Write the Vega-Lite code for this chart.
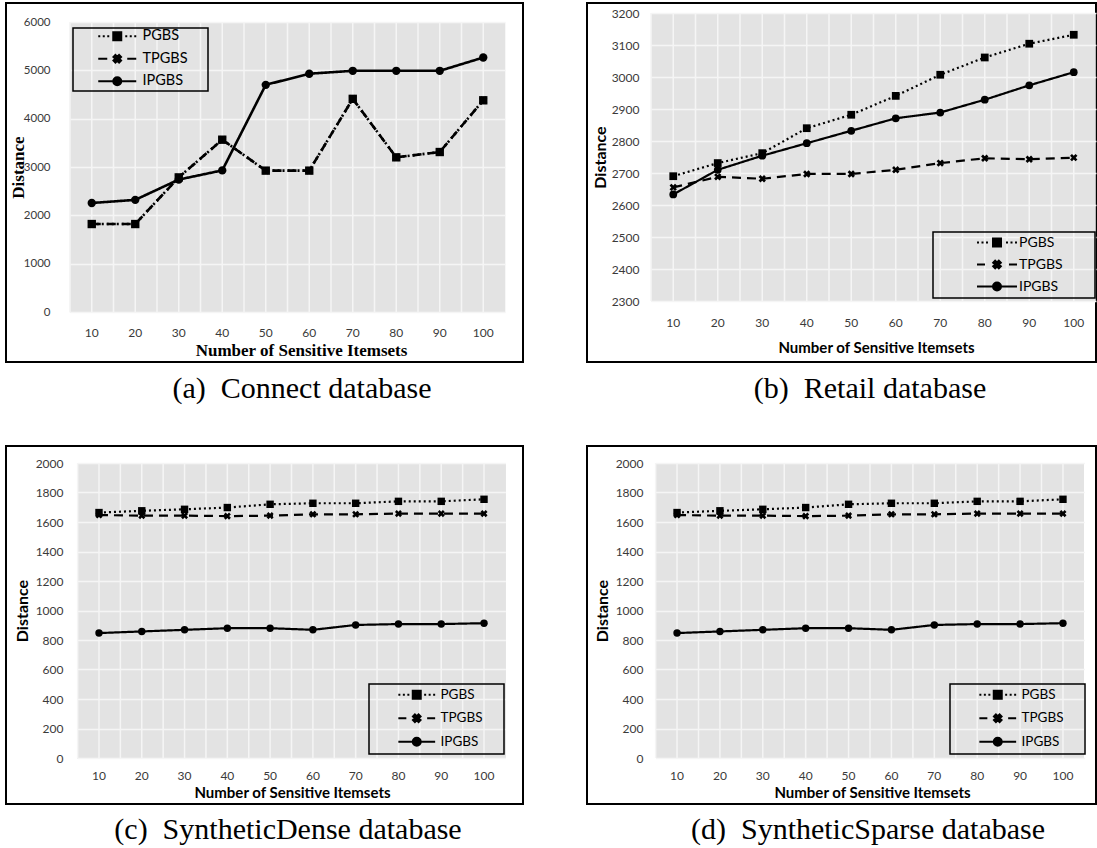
{
  "$schema": "https://vega.github.io/schema/vega-lite/v6.json",
  "padding": {"left": 5, "top": 2, "right": 0, "bottom": 0},
  "background": "white",
  "columns": 2,
  "spacing": {"row": 84, "column": 64},
  "bounds": "flush",
  "resolve": {"legend": {"strokeDash": "independent", "shape": "independent"}, "scale": {"x": "independent", "y": "independent", "strokeDash": "independent", "shape": "independent"}},
  "config": {
    "view": {"stroke": "black", "strokeWidth": 2},
    "axis": {"domain": false, "ticks": false, "tickSize": 0, "labelFont": "Lato", "labelColor": "#3a3a3a", "titleColor": "black", "labelAngle": 0, "labelOverlap": false},
    "title": {"font": "Liberation Serif", "fontSize": 30, "fontWeight": "normal", "color": "black", "orient": "bottom", "anchor": "middle", "frame": "group", "offset": 12, "baseline": "top"},
    "legend": {"title": null, "orient": "none", "strokeColor": "black", "strokeWidth": 1.5, "labelFont": "Lato", "labelColor": "black", "symbolSize": 64, "symbolStrokeWidth": 2, "symbolOpacity": 1}
  },
  "datasets": {
    "connect": [
      {"n": 10, "series": "PGBS", "value": 1820}, {"n": 20, "series": "PGBS", "value": 1820}, {"n": 30, "series": "PGBS", "value": 2785}, {"n": 40, "series": "PGBS", "value": 3565}, {"n": 50, "series": "PGBS", "value": 2925}, {"n": 60, "series": "PGBS", "value": 2925}, {"n": 70, "series": "PGBS", "value": 4410}, {"n": 80, "series": "PGBS", "value": 3200}, {"n": 90, "series": "PGBS", "value": 3310}, {"n": 100, "series": "PGBS", "value": 4380},
      {"n": 10, "series": "TPGBS", "value": 1820}, {"n": 20, "series": "TPGBS", "value": 1820}, {"n": 30, "series": "TPGBS", "value": 2785}, {"n": 40, "series": "TPGBS", "value": 3565}, {"n": 50, "series": "TPGBS", "value": 2925}, {"n": 60, "series": "TPGBS", "value": 2925}, {"n": 70, "series": "TPGBS", "value": 4410}, {"n": 80, "series": "TPGBS", "value": 3200}, {"n": 90, "series": "TPGBS", "value": 3310}, {"n": 100, "series": "TPGBS", "value": 4380},
      {"n": 10, "series": "IPGBS", "value": 2255}, {"n": 20, "series": "IPGBS", "value": 2320}, {"n": 30, "series": "IPGBS", "value": 2740}, {"n": 40, "series": "IPGBS", "value": 2930}, {"n": 50, "series": "IPGBS", "value": 4700}, {"n": 60, "series": "IPGBS", "value": 4930}, {"n": 70, "series": "IPGBS", "value": 4990}, {"n": 80, "series": "IPGBS", "value": 4990}, {"n": 90, "series": "IPGBS", "value": 4990}, {"n": 100, "series": "IPGBS", "value": 5265}
    ],
    "retail": [
      {"n": 10, "series": "PGBS", "value": 2690}, {"n": 20, "series": "PGBS", "value": 2731}, {"n": 30, "series": "PGBS", "value": 2762}, {"n": 40, "series": "PGBS", "value": 2840}, {"n": 50, "series": "PGBS", "value": 2882}, {"n": 60, "series": "PGBS", "value": 2941}, {"n": 70, "series": "PGBS", "value": 3007}, {"n": 80, "series": "PGBS", "value": 3061}, {"n": 90, "series": "PGBS", "value": 3104}, {"n": 100, "series": "PGBS", "value": 3132},
      {"n": 10, "series": "TPGBS", "value": 2655}, {"n": 20, "series": "TPGBS", "value": 2688}, {"n": 30, "series": "TPGBS", "value": 2682}, {"n": 40, "series": "TPGBS", "value": 2697}, {"n": 50, "series": "TPGBS", "value": 2697}, {"n": 60, "series": "TPGBS", "value": 2710}, {"n": 70, "series": "TPGBS", "value": 2731}, {"n": 80, "series": "TPGBS", "value": 2746}, {"n": 90, "series": "TPGBS", "value": 2743}, {"n": 100, "series": "TPGBS", "value": 2748},
      {"n": 10, "series": "IPGBS", "value": 2633}, {"n": 20, "series": "IPGBS", "value": 2710}, {"n": 30, "series": "IPGBS", "value": 2754}, {"n": 40, "series": "IPGBS", "value": 2793}, {"n": 50, "series": "IPGBS", "value": 2832}, {"n": 60, "series": "IPGBS", "value": 2871}, {"n": 70, "series": "IPGBS", "value": 2889}, {"n": 80, "series": "IPGBS", "value": 2929}, {"n": 90, "series": "IPGBS", "value": 2974}, {"n": 100, "series": "IPGBS", "value": 3015}
    ],
    "dense": [
      {"n": 10, "series": "PGBS", "value": 1664}, {"n": 20, "series": "PGBS", "value": 1676}, {"n": 30, "series": "PGBS", "value": 1686}, {"n": 40, "series": "PGBS", "value": 1698}, {"n": 50, "series": "PGBS", "value": 1720}, {"n": 60, "series": "PGBS", "value": 1727}, {"n": 70, "series": "PGBS", "value": 1727}, {"n": 80, "series": "PGBS", "value": 1740}, {"n": 90, "series": "PGBS", "value": 1740}, {"n": 100, "series": "PGBS", "value": 1754},
      {"n": 10, "series": "TPGBS", "value": 1647}, {"n": 20, "series": "TPGBS", "value": 1643}, {"n": 30, "series": "TPGBS", "value": 1643}, {"n": 40, "series": "TPGBS", "value": 1640}, {"n": 50, "series": "TPGBS", "value": 1643}, {"n": 60, "series": "TPGBS", "value": 1652}, {"n": 70, "series": "TPGBS", "value": 1652}, {"n": 80, "series": "TPGBS", "value": 1657}, {"n": 90, "series": "TPGBS", "value": 1657}, {"n": 100, "series": "TPGBS", "value": 1657},
      {"n": 10, "series": "IPGBS", "value": 847}, {"n": 20, "series": "IPGBS", "value": 858}, {"n": 30, "series": "IPGBS", "value": 869}, {"n": 40, "series": "IPGBS", "value": 880}, {"n": 50, "series": "IPGBS", "value": 880}, {"n": 60, "series": "IPGBS", "value": 869}, {"n": 70, "series": "IPGBS", "value": 902}, {"n": 80, "series": "IPGBS", "value": 908}, {"n": 90, "series": "IPGBS", "value": 908}, {"n": 100, "series": "IPGBS", "value": 914}
    ],
    "sparse": [
      {"n": 10, "series": "PGBS", "value": 1664}, {"n": 20, "series": "PGBS", "value": 1676}, {"n": 30, "series": "PGBS", "value": 1686}, {"n": 40, "series": "PGBS", "value": 1698}, {"n": 50, "series": "PGBS", "value": 1720}, {"n": 60, "series": "PGBS", "value": 1727}, {"n": 70, "series": "PGBS", "value": 1727}, {"n": 80, "series": "PGBS", "value": 1740}, {"n": 90, "series": "PGBS", "value": 1740}, {"n": 100, "series": "PGBS", "value": 1754},
      {"n": 10, "series": "TPGBS", "value": 1647}, {"n": 20, "series": "TPGBS", "value": 1643}, {"n": 30, "series": "TPGBS", "value": 1643}, {"n": 40, "series": "TPGBS", "value": 1640}, {"n": 50, "series": "TPGBS", "value": 1643}, {"n": 60, "series": "TPGBS", "value": 1652}, {"n": 70, "series": "TPGBS", "value": 1652}, {"n": 80, "series": "TPGBS", "value": 1657}, {"n": 90, "series": "TPGBS", "value": 1657}, {"n": 100, "series": "TPGBS", "value": 1657},
      {"n": 10, "series": "IPGBS", "value": 847}, {"n": 20, "series": "IPGBS", "value": 858}, {"n": 30, "series": "IPGBS", "value": 869}, {"n": 40, "series": "IPGBS", "value": 880}, {"n": 50, "series": "IPGBS", "value": 880}, {"n": 60, "series": "IPGBS", "value": 869}, {"n": 70, "series": "IPGBS", "value": 902}, {"n": 80, "series": "IPGBS", "value": 908}, {"n": 90, "series": "IPGBS", "value": 908}, {"n": 100, "series": "IPGBS", "value": 914}
    ]
  },
  "concat": [
    {
      "width": 517, "height": 359,
      "data": {"name": "connect"},
      "title": {"text": "(a)\u00a0 Connect database", "dx": 37.5},
      "resolve": {"scale": {"shape": "independent"}, "legend": {"shape": "independent"}},
      "encoding": {
        "x": {"field": "n", "type": "ordinal", "scale": {"type": "band", "range": [64, 499], "paddingInner": 0, "paddingOuter": 0},
          "axis": {"orient": "top", "offset": -309, "grid": true, "gridColor": "#e3e3e3", "gridWidth": 43.6, "gridOpacity": 1, "bandPosition": 0.5, "labelPadding": -20, "labelBaseline": "middle", "labelFontSize": 12, "title": "Number of Sensitive Itemsets", "titleFont": "Liberation Serif", "titleFontSize": 17, "titleFontWeight": "bold", "titleX": 295, "titleY": 38, "titleBaseline": "middle", "titleAlign": "center"}},
        "y": {"field": "value", "type": "quantitative", "scale": {"domain": [0, 6000], "range": [309, 19], "nice": false, "zero": false},
          "axis": {"orient": "left", "offset": -64, "values": [0, 1000, 2000, 3000, 4000, 5000, 6000], "format": "d", "grid": true, "gridColor": "#f5f5f5", "gridWidth": 1.5, "labelPadding": 20, "labelFontSize": 11.5, "title": "Distance", "titleFont": "Liberation Serif", "titleFontSize": 17, "titleFontWeight": "bold", "titleX": -52, "titleY": 164, "titleBaseline": "middle", "titleAlign": "center", "titleAngle": -90}}
      },
      "layer": [
        {
          "transform": [{"filter": "datum.series === 'IPGBS'"}],
          "mark": {"type": "rule", "color": "#f5f5f5", "strokeWidth": 1.5},
          "encoding": {
            "x": {"field": "n", "type": "ordinal", "bandPosition": 0, "scale": {"type": "band", "range": [64, 499], "paddingInner": 0, "paddingOuter": 0}},
            "y": {"datum": 0, "type": "quantitative", "scale": {"domain": [0, 6000], "range": [309, 19], "nice": false, "zero": false}},
            "y2": {"datum": 6000}
          }
        },
        {
          "transform": [{"filter": "datum.series === 'IPGBS'"}],
          "mark": {"type": "rule", "color": "#f5f5f5", "strokeWidth": 1.5},
          "encoding": {
            "x": {"field": "n", "type": "ordinal", "bandPosition": 0.5, "scale": {"type": "band", "range": [64, 499], "paddingInner": 0, "paddingOuter": 0}},
            "y": {"datum": 0, "type": "quantitative", "scale": {"domain": [0, 6000], "range": [309, 19], "nice": false, "zero": false}},
            "y2": {"datum": 6000}
          }
        },
        {
          "mark": {"type": "line", "color": "black", "strokeWidth": 2.6},
          "encoding": {
            "strokeDash": {"field": "series", "type": "nominal", "scale": {"domain": ["PGBS", "TPGBS", "IPGBS"], "range": [[2, 3], [9, 6], [1, 0]]}, "legend": null}
          }
        },
        {
          "mark": {"type": "point", "filled": true, "color": "black", "size": 70, "opacity": 1},
          "encoding": {
            "shape": {"field": "series", "type": "nominal", "scale": {"domain": ["PGBS", "TPGBS", "IPGBS"], "range": ["square", "M-0.46,-0.955L0,-0.495L0.46,-0.955L0.955,-0.46L0.495,0L0.955,0.46L0.46,0.955L0,0.495L-0.46,0.955L-0.955,0.46L-0.495,0L-0.955,-0.46Z", "circle"]}, "legend": null}
          }
        },
        {
          "transform": [{"filter": "false"}],
          "mark": {"type": "point", "filled": true, "color": "black", "stroke": "black", "strokeWidth": 2, "opacity": 1},
          "encoding": {
            "shape": {"field": "series", "type": "nominal",
              "scale": {"domain": ["PGBS\u00a0\u00a0\u00a0\u00a0\u00a0\u200b", "TPGBS\u00a0\u00a0\u00a0\u00a0\u00a0\u200b", "IPGBS\u00a0\u00a0\u00a0\u00a0\u00a0\u200b"], "range": ["M-4.75,0H-4.25M-3.625,0H-3.125M-2.5,0H-2M2,0H2.5M3.125,0H3.625M4.25,0H4.75M-1,-1H1V1H-1Z", "M-4.75,0H-2.5M2.5,0H4.75M-0.46,-0.955L0,-0.495L0.46,-0.955L0.955,-0.46L0.495,0L0.955,0.46L0.46,0.955L0,0.495L-0.46,0.955L-0.955,0.46L-0.495,0L-0.955,-0.46Z", "M-4.75,0H4.75M-1,0A1,1 0 1,0 1,0A1,1 0 1,0 -1,0Z"]},
              "legend": {"legendX": 67, "legendY": 25, "padding": 1, "rowPadding": 5.5, "labelFontSize": 14.5, "symbolOffset": 36, "labelOffset": 18}}
          }
        }
      ]
    },
    {
      "width": 509, "height": 359,
      "data": {"name": "retail"},
      "title": {"text": "(b)\u00a0 Retail database", "dx": 28.5},
      "resolve": {"scale": {"shape": "independent"}, "legend": {"shape": "independent"}},
      "encoding": {
        "x": {"field": "n", "type": "ordinal", "scale": {"type": "band", "range": [64, 509], "paddingInner": 0, "paddingOuter": 0},
          "axis": {"orient": "top", "offset": -298, "grid": true, "gridColor": "#e3e3e3", "gridWidth": 44.6, "gridOpacity": 1, "bandPosition": 0.5, "labelPadding": -21, "labelBaseline": "middle", "labelFontSize": 12, "title": "Number of Sensitive Itemsets", "titleFont": "Lato", "titleFontSize": 15, "titleFontWeight": "bold", "titleX": 289, "titleY": 46, "titleBaseline": "middle", "titleAlign": "center"}},
        "y": {"field": "value", "type": "quantitative", "scale": {"domain": [2300, 3200], "range": [298, 10], "nice": false, "zero": false},
          "axis": {"orient": "left", "offset": -64, "values": [2300, 2400, 2500, 2600, 2700, 2800, 2900, 3000, 3100, 3200], "format": "d", "grid": true, "gridColor": "#f5f5f5", "gridWidth": 1.5, "labelPadding": 12, "labelFontSize": 12, "title": "Distance", "titleFont": "Lato", "titleFontSize": 16, "titleFontWeight": "bold", "titleX": -51, "titleY": 154, "titleBaseline": "middle", "titleAlign": "center", "titleAngle": -90}}
      },
      "layer": [
        {
          "transform": [{"filter": "datum.series === 'IPGBS'"}],
          "mark": {"type": "rule", "color": "#f5f5f5", "strokeWidth": 1.5},
          "encoding": {
            "x": {"field": "n", "type": "ordinal", "bandPosition": 0, "scale": {"type": "band", "range": [64, 509], "paddingInner": 0, "paddingOuter": 0}},
            "y": {"datum": 2300, "type": "quantitative", "scale": {"domain": [2300, 3200], "range": [298, 10], "nice": false, "zero": false}},
            "y2": {"datum": 3200}
          }
        },
        {
          "transform": [{"filter": "datum.series === 'IPGBS'"}],
          "mark": {"type": "rule", "color": "#f5f5f5", "strokeWidth": 1.5},
          "encoding": {
            "x": {"field": "n", "type": "ordinal", "bandPosition": 0.5, "scale": {"type": "band", "range": [64, 509], "paddingInner": 0, "paddingOuter": 0}},
            "y": {"datum": 2300, "type": "quantitative", "scale": {"domain": [2300, 3200], "range": [298, 10], "nice": false, "zero": false}},
            "y2": {"datum": 3200}
          }
        },
        {
          "mark": {"type": "line", "color": "black", "strokeWidth": 2.2},
          "encoding": {
            "strokeDash": {"field": "series", "type": "nominal", "scale": {"domain": ["PGBS", "TPGBS", "IPGBS"], "range": [[2, 3], [9, 6], [1, 0]]}, "legend": null}
          }
        },
        {
          "mark": {"type": "point", "filled": true, "color": "black", "size": 60, "opacity": 1},
          "encoding": {
            "shape": {"field": "series", "type": "nominal", "scale": {"domain": ["PGBS", "TPGBS", "IPGBS"], "range": ["square", "M-0.46,-0.955L0,-0.495L0.46,-0.955L0.955,-0.46L0.495,0L0.955,0.46L0.46,0.955L0,0.495L-0.46,0.955L-0.955,0.46L-0.495,0L-0.955,-0.46Z", "circle"]}, "legend": null}
          }
        },
        {
          "transform": [{"filter": "false"}],
          "mark": {"type": "point", "filled": true, "color": "black", "stroke": "black", "strokeWidth": 2, "opacity": 1},
          "encoding": {
            "shape": {"field": "series", "type": "nominal",
              "scale": {"domain": ["PGBS\u00a0\u00a0\u00a0\u00a0\u00a0\u00a0\u00a0\u00a0\u200b", "TPGBS\u00a0\u00a0\u00a0\u00a0\u00a0\u00a0\u00a0\u00a0\u200b", "IPGBS\u00a0\u00a0\u00a0\u00a0\u00a0\u00a0\u00a0\u00a0\u200b"], "range": ["M-5,0H-4.5M-3.875,0H-3.375M-2.75,0H-2.25M2.25,0H2.75M3.375,0H3.875M4.5,0H5M-1,-1H1V1H-1Z", "M-5,0H-3M3,0H5M-0.46,-0.955L0,-0.495L0.46,-0.955L0.955,-0.46L0.495,0L0.955,0.46L0.46,0.955L0,0.495L-0.46,0.955L-0.955,0.46L-0.495,0L-0.955,-0.46Z", "M-5,0H5M-1,0A1,1 0 1,0 1,0A1,1 0 1,0 -1,0Z"]},
              "legend": {"legendX": 346, "legendY": 229, "padding": 3.5, "rowPadding": 6, "labelFontSize": 14, "symbolOffset": 53.5, "labelOffset": 15}}
          }
        }
      ]
    },
    {
      "width": 517, "height": 358,
      "data": {"name": "dense"},
      "title": {"text": "(c)\u00a0 SyntheticDense database", "dx": 23.5, "offset": 11},
      "resolve": {"scale": {"shape": "independent"}, "legend": {"shape": "independent"}},
      "encoding": {
        "x": {"field": "n", "type": "ordinal", "scale": {"type": "band", "range": [71.6, 499.4], "paddingInner": 0, "paddingOuter": 0},
          "axis": {"orient": "top", "offset": -312, "grid": true, "gridColor": "#e3e3e3", "gridWidth": 42.9, "gridOpacity": 1, "bandPosition": 0.5, "labelPadding": -17, "labelBaseline": "middle", "labelFontSize": 12, "title": "Number of Sensitive Itemsets", "titleFont": "Lato", "titleFontSize": 15, "titleFontWeight": "bold", "titleX": 286, "titleY": 34, "titleBaseline": "middle", "titleAlign": "center"}},
        "y": {"field": "value", "type": "quantitative", "scale": {"domain": [0, 2000], "range": [312, 17], "nice": false, "zero": false},
          "axis": {"orient": "left", "offset": -71.6, "values": [0, 200, 400, 600, 800, 1000, 1200, 1400, 1600, 1800, 2000], "format": "d", "grid": true, "gridColor": "#f5f5f5", "gridWidth": 1.5, "labelPadding": 14.6, "labelFontSize": 12, "title": "Distance", "titleFont": "Lato", "titleFontSize": 16, "titleFontWeight": "bold", "titleX": -55.6, "titleY": 164.5, "titleBaseline": "middle", "titleAlign": "center", "titleAngle": -90}}
      },
      "layer": [
        {
          "transform": [{"filter": "datum.series === 'IPGBS'"}],
          "mark": {"type": "rule", "color": "#f5f5f5", "strokeWidth": 1.5},
          "encoding": {
            "x": {"field": "n", "type": "ordinal", "bandPosition": 0, "scale": {"type": "band", "range": [71.6, 499.4], "paddingInner": 0, "paddingOuter": 0}},
            "y": {"datum": 0, "type": "quantitative", "scale": {"domain": [0, 2000], "range": [312, 17], "nice": false, "zero": false}},
            "y2": {"datum": 2000}
          }
        },
        {
          "transform": [{"filter": "datum.series === 'IPGBS'"}],
          "mark": {"type": "rule", "color": "#f5f5f5", "strokeWidth": 1.5},
          "encoding": {
            "x": {"field": "n", "type": "ordinal", "bandPosition": 0.5, "scale": {"type": "band", "range": [71.6, 499.4], "paddingInner": 0, "paddingOuter": 0}},
            "y": {"datum": 0, "type": "quantitative", "scale": {"domain": [0, 2000], "range": [312, 17], "nice": false, "zero": false}},
            "y2": {"datum": 2000}
          }
        },
        {
          "mark": {"type": "line", "color": "black", "strokeWidth": 2.2},
          "encoding": {
            "strokeDash": {"field": "series", "type": "nominal", "scale": {"domain": ["PGBS", "TPGBS", "IPGBS"], "range": [[2, 3], [9, 6], [1, 0]]}, "legend": null}
          }
        },
        {
          "mark": {"type": "point", "filled": true, "color": "black", "size": 55, "opacity": 1},
          "encoding": {
            "shape": {"field": "series", "type": "nominal", "scale": {"domain": ["PGBS", "TPGBS", "IPGBS"], "range": ["square", "M-0.46,-0.955L0,-0.495L0.46,-0.955L0.955,-0.46L0.495,0L0.955,0.46L0.46,0.955L0,0.495L-0.46,0.955L-0.955,0.46L-0.495,0L-0.955,-0.46Z", "circle"]}, "legend": null}
          }
        },
        {
          "transform": [{"filter": "false"}],
          "mark": {"type": "point", "filled": true, "color": "black", "stroke": "black", "strokeWidth": 2, "opacity": 1},
          "encoding": {
            "shape": {"field": "series", "type": "nominal",
              "scale": {"domain": ["PGBS\u00a0\u00a0\u00a0\u00a0\u00a0\u200b", "TPGBS\u00a0\u00a0\u00a0\u00a0\u00a0\u200b", "IPGBS\u00a0\u00a0\u00a0\u00a0\u00a0\u200b"], "range": ["M-4.6,0H-4.1M-3.475,0H-2.975M-2.35,0H-1.85M1.85,0H2.35M2.975,0H3.475M4.1,0H4.6M-1,-1H1V1H-1Z", "M-4.6,0H-2.6M2.6,0H4.6M-0.46,-0.955L0,-0.495L0.46,-0.955L0.955,-0.46L0.495,0L0.955,0.46L0.46,0.955L0,0.495L-0.46,0.955L-0.955,0.46L-0.495,0L-0.955,-0.46Z", "M-4.6,0H4.6M-1,0A1,1 0 1,0 1,0A1,1 0 1,0 -1,0Z"]},
              "legend": {"legendX": 363, "legendY": 238, "padding": 4, "rowPadding": 6.5, "labelFontSize": 13.5, "symbolOffset": 37, "labelOffset": 17}}
          }
        }
      ]
    },
    {
      "width": 509, "height": 358,
      "data": {"name": "sparse"},
      "title": {"text": "(d)\u00a0 SyntheticSparse database", "dx": 26.5, "offset": 11},
      "resolve": {"scale": {"shape": "independent"}, "legend": {"shape": "independent"}},
      "encoding": {
        "x": {"field": "n", "type": "ordinal", "scale": {"type": "band", "range": [68.6, 497.4], "paddingInner": 0, "paddingOuter": 0},
          "axis": {"orient": "top", "offset": -312, "grid": true, "gridColor": "#e3e3e3", "gridWidth": 43, "gridOpacity": 1, "bandPosition": 0.5, "labelPadding": -17, "labelBaseline": "middle", "labelFontSize": 12, "title": "Number of Sensitive Itemsets", "titleFont": "Lato", "titleFontSize": 15, "titleFontWeight": "bold", "titleX": 285, "titleY": 34, "titleBaseline": "middle", "titleAlign": "center"}},
        "y": {"field": "value", "type": "quantitative", "scale": {"domain": [0, 2000], "range": [312, 17], "nice": false, "zero": false},
          "axis": {"orient": "left", "offset": -68.6, "values": [0, 200, 400, 600, 800, 1000, 1200, 1400, 1600, 1800, 2000], "format": "d", "grid": true, "gridColor": "#f5f5f5", "gridWidth": 1.5, "labelPadding": 12.6, "labelFontSize": 12, "title": "Distance", "titleFont": "Lato", "titleFontSize": 16, "titleFontWeight": "bold", "titleX": -53.6, "titleY": 164.5, "titleBaseline": "middle", "titleAlign": "center", "titleAngle": -90}}
      },
      "layer": [
        {
          "transform": [{"filter": "datum.series === 'IPGBS'"}],
          "mark": {"type": "rule", "color": "#f5f5f5", "strokeWidth": 1.5},
          "encoding": {
            "x": {"field": "n", "type": "ordinal", "bandPosition": 0, "scale": {"type": "band", "range": [68.6, 497.4], "paddingInner": 0, "paddingOuter": 0}},
            "y": {"datum": 0, "type": "quantitative", "scale": {"domain": [0, 2000], "range": [312, 17], "nice": false, "zero": false}},
            "y2": {"datum": 2000}
          }
        },
        {
          "transform": [{"filter": "datum.series === 'IPGBS'"}],
          "mark": {"type": "rule", "color": "#f5f5f5", "strokeWidth": 1.5},
          "encoding": {
            "x": {"field": "n", "type": "ordinal", "bandPosition": 0.5, "scale": {"type": "band", "range": [68.6, 497.4], "paddingInner": 0, "paddingOuter": 0}},
            "y": {"datum": 0, "type": "quantitative", "scale": {"domain": [0, 2000], "range": [312, 17], "nice": false, "zero": false}},
            "y2": {"datum": 2000}
          }
        },
        {
          "mark": {"type": "line", "color": "black", "strokeWidth": 2.2},
          "encoding": {
            "strokeDash": {"field": "series", "type": "nominal", "scale": {"domain": ["PGBS", "TPGBS", "IPGBS"], "range": [[2, 3], [9, 6], [1, 0]]}, "legend": null}
          }
        },
        {
          "mark": {"type": "point", "filled": true, "color": "black", "size": 55, "opacity": 1},
          "encoding": {
            "shape": {"field": "series", "type": "nominal", "scale": {"domain": ["PGBS", "TPGBS", "IPGBS"], "range": ["square", "M-0.46,-0.955L0,-0.495L0.46,-0.955L0.955,-0.46L0.495,0L0.955,0.46L0.46,0.955L0,0.495L-0.46,0.955L-0.955,0.46L-0.495,0L-0.955,-0.46Z", "circle"]}, "legend": null}
          }
        },
        {
          "transform": [{"filter": "false"}],
          "mark": {"type": "point", "filled": true, "color": "black", "stroke": "black", "strokeWidth": 2, "opacity": 1},
          "encoding": {
            "shape": {"field": "series", "type": "nominal",
              "scale": {"domain": ["PGBS\u00a0\u00a0\u00a0\u00a0\u00a0\u200b", "TPGBS\u00a0\u00a0\u00a0\u00a0\u00a0\u200b", "IPGBS\u00a0\u00a0\u00a0\u00a0\u00a0\u200b"], "range": ["M-4.6,0H-4.1M-3.475,0H-2.975M-2.35,0H-1.85M1.85,0H2.35M2.975,0H3.475M4.1,0H4.6M-1,-1H1V1H-1Z", "M-4.6,0H-2.6M2.6,0H4.6M-0.46,-0.955L0,-0.495L0.46,-0.955L0.955,-0.46L0.495,0L0.955,0.46L0.46,0.955L0,0.495L-0.46,0.955L-0.955,0.46L-0.495,0L-0.955,-0.46Z", "M-4.6,0H4.6M-1,0A1,1 0 1,0 1,0A1,1 0 1,0 -1,0Z"]},
              "legend": {"legendX": 363, "legendY": 238, "padding": 4, "rowPadding": 6.5, "labelFontSize": 13.5, "symbolOffset": 37, "labelOffset": 17}}
          }
        }
      ]
    }
  ]
}
